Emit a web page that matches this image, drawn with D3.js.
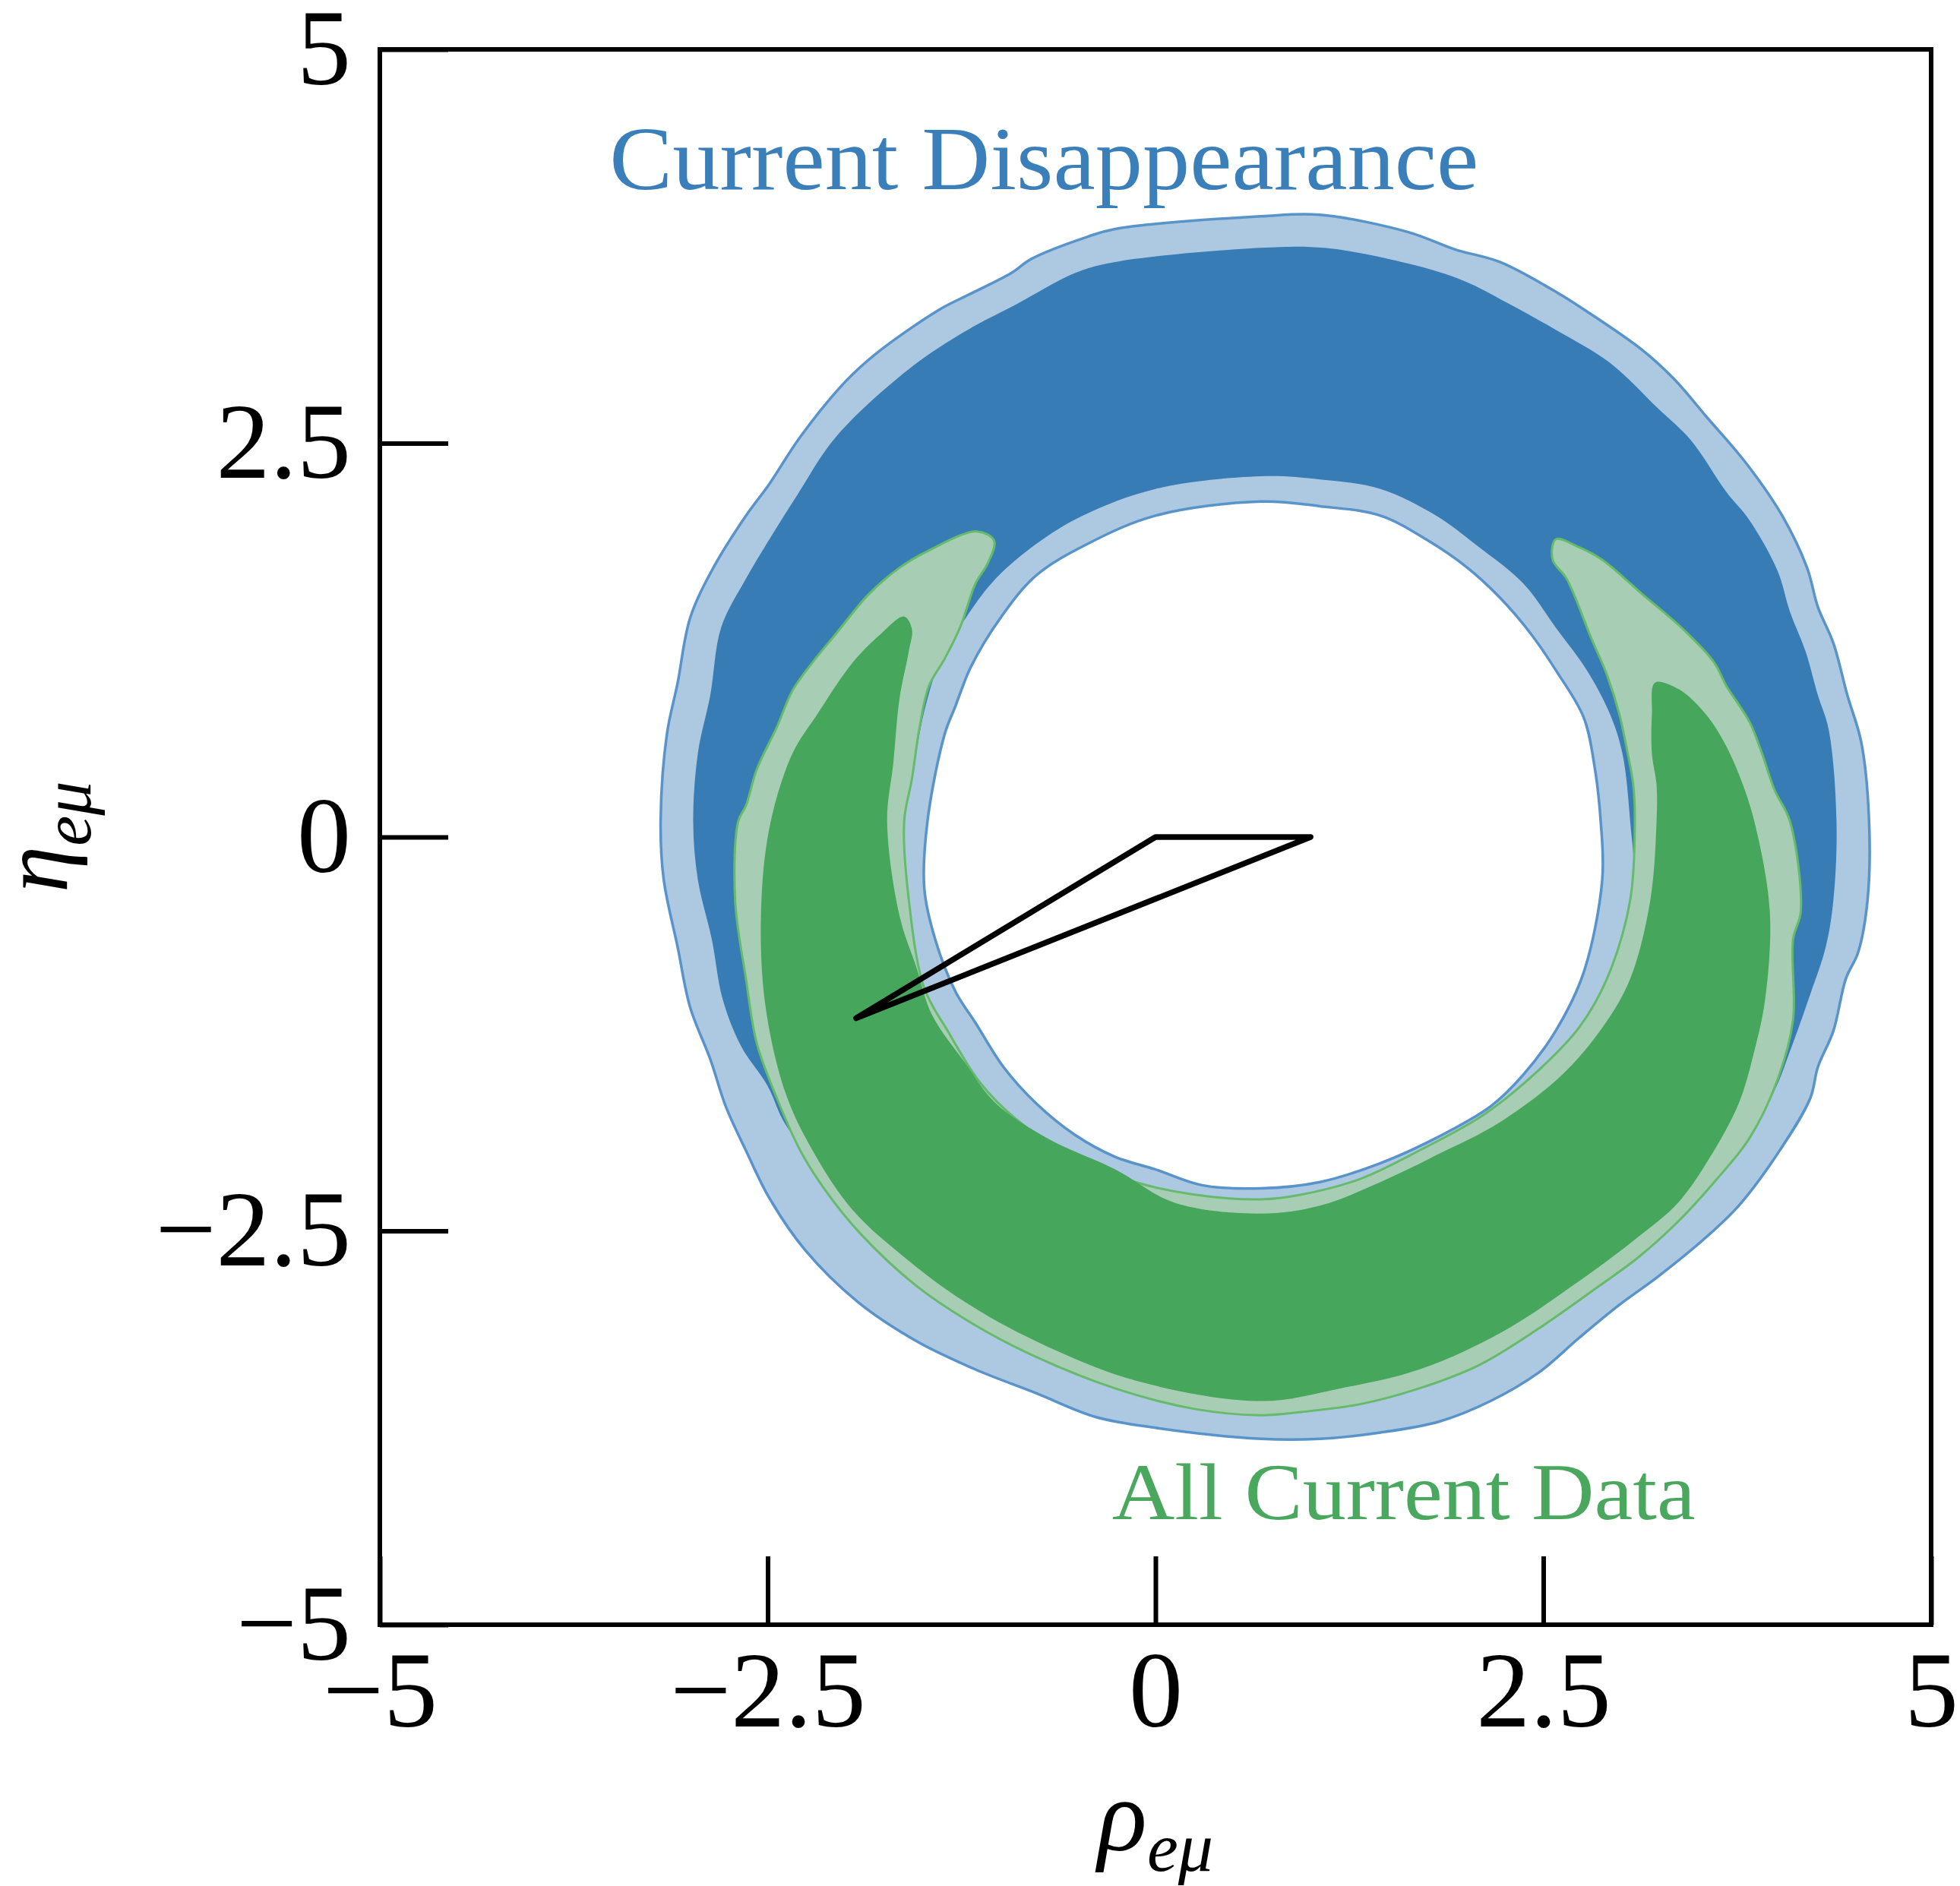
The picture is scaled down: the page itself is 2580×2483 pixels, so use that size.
<!DOCTYPE html>
<html><head><meta charset="utf-8">
<script src="https://cdn.jsdelivr.net/npm/d3@7"></script>
<style>html,body{margin:0;padding:0;background:#fff;} svg{display:block;}</style>
</head><body>
<script>
// Allowed regions in the (rho_emu, eta_emu) plane.
const xTicks = [-5, -2.5, 0, 2.5, 5];
const yTicks = [-5, -2.5, 0, 2.5, 5];
const xLabel = ["ρ", "eμ"];
const yLabel = ["η", "eμ"];

// Disappearance-only fit: outer and inner boundaries of the 95% and 68% bands.
const disOuter95 = [[0.68,3.94],[1.06,3.95],[1.63,3.84],[1.93,3.73],[2.22,3.65],[2.60,3.45],[2.76,3.35],[3.14,3.09],[3.35,2.90],[3.55,2.67],[3.81,2.37],[4.04,2.04],[4.20,1.71],[4.27,1.46],[4.37,1.23],[4.46,0.90],[4.55,0.60],[4.60,0.10],
  [4.59,-0.40],[4.53,-0.73],[4.45,-0.90],[4.37,-1.23],[4.27,-1.46],[4.22,-1.66],[4.01,-2.01],[3.76,-2.34],[3.55,-2.54],[3.24,-2.79],[2.99,-2.97],[2.73,-3.18],[2.47,-3.40],[2.16,-3.58],[1.83,-3.71],[1.45,-3.78],[1.06,-3.82],[0.68,-3.82],
  [0.00,-3.75],[-0.39,-3.68],[-0.77,-3.53],[-1.16,-3.38],[-1.54,-3.20],[-1.92,-2.95],[-2.26,-2.62],[-2.49,-2.29],[-2.64,-1.99],[-2.77,-1.71],[-2.87,-1.41],[-3.00,-1.08],[-3.08,-0.70],[-3.17,-0.27],[-3.19,0.10],
  [-3.15,0.65],[-3.08,0.98],[-3.00,1.39],[-2.85,1.71],[-2.64,2.04],[-2.49,2.24],[-2.29,2.54],[-2.00,2.89],[-1.80,3.07],[-1.39,3.35],[-1.21,3.44],[-0.93,3.58],[-0.80,3.67],[-0.44,3.81],[-0.26,3.86]];
const disInner95 = [[0.68,2.13],[1.06,2.10],[1.45,2.04],[1.76,1.88],[2.01,1.71],[2.22,1.52],[2.42,1.29],[2.58,1.06],[2.76,0.76],[2.83,0.45],[2.87,0.10],
  [2.88,-0.27],[2.76,-0.86],[2.58,-1.23],[2.37,-1.51],[2.16,-1.71],[1.81,-1.91],[1.45,-2.07],[1.06,-2.19],[0.68,-2.23],
  [0.30,-2.21],[0.00,-2.11],[-0.26,-2.03],[-0.52,-1.89],[-0.77,-1.69],[-0.98,-1.46],[-1.16,-1.18],[-1.29,-0.98],[-1.42,-0.65],[-1.49,-0.33],[-1.47,0.10],
  [-1.36,0.65],[-1.29,0.83],[-1.19,1.08],[-1.00,1.39],[-0.77,1.66],[-0.44,1.86],[0.00,2.04]];
const disOuter68 = [[0.68,3.74],[1.09,3.74],[1.63,3.64],[1.99,3.53],[2.27,3.39],[2.58,3.22],[2.93,3.01],[3.24,2.72],[3.45,2.52],[3.68,2.19],[3.83,2.01],[4.01,1.69],[4.09,1.43],[4.19,1.18],[4.27,0.90],[4.34,0.68],[4.39,0.10],
  [4.37,-0.40],[4.32,-0.70],[4.22,-1.00],[4.09,-1.36],[3.99,-1.61],[3.80,-1.92],[3.59,-2.16],[3.34,-2.42],[3.08,-2.65],[2.83,-2.83],[2.45,-3.09],[2.07,-3.31],[1.69,-3.46],[1.31,-3.56],[0.94,-3.61],[0.68,-3.63],
  [0.25,-3.60],[0.00,-3.52],[-0.40,-3.38],[-0.77,-3.24],[-1.16,-3.04],[-1.54,-2.80],[-1.88,-2.48],[-2.10,-2.22],[-2.27,-1.98],[-2.40,-1.80],[-2.50,-1.58],[-2.67,-1.33],[-2.79,-1.03],[-2.86,-0.65],[-2.95,-0.27],[-2.98,0.10],
  [-2.95,0.53],[-2.87,0.90],[-2.80,1.33],[-2.64,1.64],[-2.52,1.84],[-2.31,2.17],[-2.06,2.54],[-1.59,2.97],[-1.21,3.22],[-0.90,3.38],[-0.52,3.58],[-0.26,3.65]];
const disInner68 = [[0.68,2.29],[1.06,2.27],[1.45,2.21],[1.81,2.04],[2.06,1.86],[2.37,1.61],[2.58,1.33],[2.78,1.06],[2.93,0.78],[3.01,0.53],[3.06,0.10],
  [3.08,-0.28],[2.94,-0.91],[2.74,-1.34],[2.52,-1.66],[2.27,-1.90],[1.88,-2.11],[1.51,-2.26],[1.10,-2.38],[0.68,-2.42],
  [0.26,-2.39],[-0.08,-2.31],[-0.35,-2.21],[-0.64,-2.07],[-0.91,-1.85],[-1.13,-1.61],[-1.33,-1.32],[-1.47,-1.05],[-1.60,-0.69],[-1.67,-0.33],[-1.62,0.10],
  [-1.57,0.37],[-1.49,0.80],[-1.39,1.11],[-1.21,1.41],[-1.03,1.64],[-0.77,1.86],[-0.47,2.04],[0.00,2.21]];

// Global fit: crescent-shaped 95% and 68% regions.
const all95 = [[-1.15,1.94],[-1.46,1.82],[-1.65,1.71],[-1.85,1.54],[-2.06,1.29],[-2.21,1.11],[-2.34,0.93],[-2.44,0.70],[-2.57,0.43],[-2.64,0.20],[-2.69,0.10],
  [-2.71,-0.40],[-2.64,-0.90],[-2.57,-1.31],[-2.44,-1.66],[-2.29,-1.99],[-2.13,-2.24],[-1.90,-2.52],[-1.54,-2.85],[-1.16,-3.10],[-0.77,-3.30],[-0.26,-3.50],[0.25,-3.63],[0.68,-3.67],
  [0.94,-3.65],[1.32,-3.60],[1.70,-3.50],[2.09,-3.35],[2.47,-3.12],[2.86,-2.85],[3.11,-2.67],[3.37,-2.44],[3.62,-2.17],[3.83,-1.91],[4.01,-1.54],[4.11,-1.16],[4.11,-0.65],[4.16,-0.47],[4.09,0.10],
  [3.99,0.30],[3.91,0.53],[3.83,0.73],[3.68,0.96],[3.60,1.11],[3.39,1.33],[3.14,1.54],[2.88,1.76],[2.73,1.84],[2.58,1.89],
  [2.56,1.76],[2.65,1.64],[2.81,1.26],[2.91,1.03],[2.99,0.78],[3.04,0.55],[3.08,0.33],[3.09,0.10],
  [3.06,-0.40],[2.91,-0.90],[2.73,-1.21],[2.47,-1.48],[2.12,-1.76],[1.70,-1.99],[1.32,-2.17],[0.94,-2.27],[0.68,-2.30],
  [0.25,-2.27],[-0.13,-2.19],[-0.52,-2.04],[-0.90,-1.79],[-1.13,-1.56],[-1.34,-1.23],[-1.49,-0.96],[-1.59,-0.40],[-1.62,0.10],
  [-1.57,0.37],[-1.52,0.70],[-1.46,0.96],[-1.36,1.13],[-1.26,1.33],[-1.16,1.61],[-1.08,1.74],[-1.04,1.88]];
const all68 = [[-1.62,1.40],[-1.57,1.32],[-1.59,1.18],[-1.65,0.88],[-1.69,0.47],[-1.73,0.10],
  [-1.65,-0.50],[-1.54,-0.83],[-1.44,-1.13],[-1.23,-1.43],[-1.03,-1.69],[-0.70,-1.91],[-0.26,-2.11],[0.12,-2.32],[0.68,-2.39],
  [1.06,-2.34],[1.45,-2.19],[1.83,-2.01],[2.22,-1.81],[2.62,-1.51],[2.88,-1.21],[3.06,-0.90],[3.19,-0.40],[3.23,0.10],
  [3.23,0.33],[3.20,0.53],[3.20,0.78],[3.22,0.98],[3.37,0.94],
  [3.53,0.80],[3.65,0.63],[3.76,0.40],[3.86,0.10],
  [3.96,-0.47],[3.93,-1.03],[3.86,-1.36],[3.76,-1.69],[3.57,-2.04],[3.37,-2.32],[3.11,-2.54],[2.73,-2.82],[2.22,-3.15],[1.70,-3.38],[1.19,-3.50],[0.68,-3.58],
  [-0.13,-3.45],[-0.77,-3.20],[-1.23,-2.95],[-1.59,-2.69],[-1.95,-2.37],[-2.21,-1.99],[-2.39,-1.61],[-2.52,-1.03],[-2.54,-0.40],[-2.48,0.10],
  [-2.34,0.53],[-2.18,0.78],[-1.95,1.11],[-1.77,1.29]];

// Triangle drawn in the plane.
const triangle = [[0,0],[1,0],[-1.93,-1.15]];

// Region annotations: text and anchor point in data units.
const disLabel = {text: "Current Disappearance", rho: -3.52, eta: 4.115};
const allLabel = {text: "All Current Data", rho: -0.28, eta: -4.33};

const W = 2580, H = 2483;
const svg = d3.select("body").append("svg").attr("width", W).attr("height", H)
  .style("background", "#fff");

const x = d3.scaleLinear().domain([-5, 5]).range([500, 2542]);
const y = d3.scaleLinear().domain([-5, 5]).range([2139, 65]);

const smooth = d3.line().x(d => x(d[0])).y(d => y(d[1])).curve(d3.curveCatmullRomClosed.alpha(0.5));
const poly = d3.line().x(d => x(d[0])).y(d => y(d[1])).curve(d3.curveLinearClosed);

// Disappearance 95% band (annulus)
svg.append("path")
  .attr("d", smooth(disOuter95) + smooth(disInner95))
  .attr("fill", "#adc8e1").attr("fill-rule", "evenodd")
  .attr("stroke", "#5893c9").attr("stroke-width", 3.5).attr("stroke-linejoin", "round");
// Disappearance 68% band
svg.append("path")
  .attr("d", smooth(disOuter68) + smooth(disInner68))
  .attr("fill", "#377cb4").attr("fill-rule", "evenodd");

// All data 95% and 68% regions
svg.append("path")
  .attr("d", smooth(all95))
  .attr("fill", "#a7cdb4")
  .attr("stroke", "#66ba6c").attr("stroke-width", 3).attr("stroke-linejoin", "round");
svg.append("path")
  .attr("d", smooth(all68))
  .attr("fill", "#46a65c");

// Triangle
svg.append("path")
  .attr("d", poly(triangle))
  .attr("fill", "none").attr("stroke", "#000").attr("stroke-width", 7.5)
  .attr("stroke-linejoin", "round").attr("stroke-linecap", "round");

// Axes
const fmt = d => (d < 0 ? "\u2212" : "") + Math.abs(d);
const tickFont = "'Liberation Serif', 'DejaVu Serif', serif";

const gx = svg.append("g").attr("transform", `translate(0,${y(-5)})`)
  .call(d3.axisBottom(x).tickValues(xTicks).tickFormat(fmt).tickSize(-90).tickPadding(33));
const gy = svg.append("g").attr("transform", `translate(${x(-5)},0)`)
  .call(d3.axisLeft(y).tickValues(yTicks).tickFormat(fmt).tickSize(-90).tickPadding(38));
[gx, gy].forEach(g => {
  g.select(".domain").remove();
  g.selectAll(".tick line").attr("stroke", "#000").attr("stroke-width", 6);
  g.selectAll(".tick text").attr("fill", "#000")
    .style("font-family", tickFont).style("font-size", "142px");
});

// Frame
svg.append("rect")
  .attr("x", x(-5)).attr("y", y(5))
  .attr("width", x(5) - x(-5)).attr("height", y(-5) - y(5))
  .attr("fill", "none").attr("stroke", "#000").attr("stroke-width", 6);

// Axis titles
const mathFont = "'Liberation Serif', 'DejaVu Serif', serif";
const xt = svg.append("text")
  .attr("x", (x(-5) + x(5)) / 2).attr("y", 2436)
  .attr("text-anchor", "middle")
  .style("font-family", mathFont).style("font-style", "italic");
xt.append("tspan").text(xLabel[0]).style("font-size", "135px");
xt.append("tspan").attr("dy", 27).text(xLabel[1]).style("font-size", "92px");

const yt = svg.append("text")
  .attr("transform", `translate(88,${(y(-5) + y(5)) / 2}) rotate(-90)`)
  .attr("text-anchor", "middle")
  .style("font-family", mathFont).style("font-style", "italic");
yt.append("tspan").text(yLabel[0]).style("font-size", "124px");
yt.append("tspan").attr("dy", 31).text(yLabel[1]).style("font-size", "90px");

// Region labels
const labelFont = "'Liberation Serif', 'DejaVu Serif', serif";
svg.append("text")
  .attr("x", x(disLabel.rho)).attr("y", y(disLabel.eta))
  .attr("textLength", 1144).attr("lengthAdjust", "spacingAndGlyphs")
  .style("font-family", labelFont).style("font-size", "118px")
  .attr("fill", "#3b7fba").text(disLabel.text);
svg.append("text")
  .attr("x", x(allLabel.rho)).attr("y", y(allLabel.eta))
  .attr("textLength", 768).attr("lengthAdjust", "spacingAndGlyphs")
  .style("font-family", labelFont).style("font-size", "106px")
  .attr("fill", "#4aa85e").text(allLabel.text);
</script>
</body></html>
